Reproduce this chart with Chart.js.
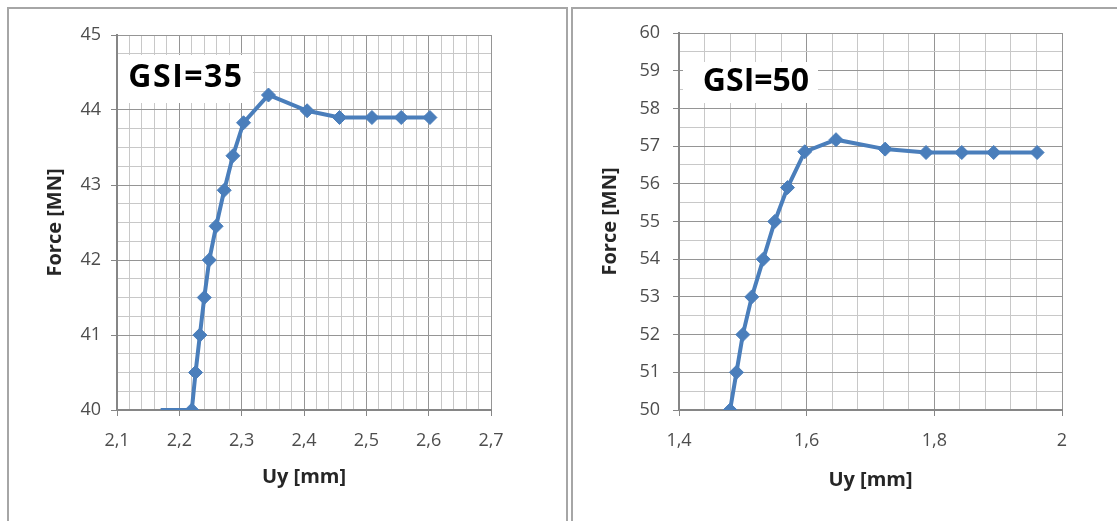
<!DOCTYPE html>
<html>
<head>
<meta charset="utf-8">
<script src="https://cdn.jsdelivr.net/npm/chart.js@4.4.0/dist/chart.umd.min.js"></script>
<style>
body { margin: 0; background: #fff; width: 1117px; height: 521px; overflow: hidden; position: relative; }
.panel { position: absolute; top: 7px; height: 600px; border: 2px solid #a6a6a6; box-sizing: border-box; }
#panelA { left: 7px; width: 561px; }
#panelB { left: 571px; width: 600px; }
canvas { position: absolute; top: 0; }
#chartA { left: 0; }
#chartB { left: 572px; }
</style>
</head>
<body>
<div class="panel" id="panelA"></div>
<div class="panel" id="panelB"></div>
<canvas id="chartA" width="566" height="521"></canvas>
<canvas id="chartB" width="545" height="521"></canvas>
<script>
// GSI=35
const uyA = [2.17, 2.22, 2.226, 2.233, 2.240, 2.248, 2.259, 2.272, 2.286, 2.303, 2.343, 2.405, 2.457, 2.509, 2.556, 2.602];
const forceA = [40, 40, 40.5, 41, 41.5, 42, 42.45, 42.93, 43.39, 43.83, 44.2, 43.99, 43.9, 43.9, 43.9, 43.9];
// GSI=50
const uyB = [1.48, 1.49, 1.5, 1.514, 1.532, 1.55, 1.57, 1.597, 1.646, 1.723, 1.787, 1.843, 1.893, 1.961];
const forceB = [50, 51, 52, 53, 54, 55, 55.9, 56.85, 57.17, 56.92, 56.83, 56.83, 56.83, 56.83];

const BLUE = '#4a7ebb';
const FONT = "'Open Sans', sans-serif";

function isMajor(v, major) {
    const r = v / major;
    return Math.abs(r - Math.round(r)) < 1e-6;
}
function fmt(v) {
    return String(Math.round(v * 10) / 10).replace('.', ',');
}

// white box with the GSI text, drawn under the line
const gsiLabel = {
    id: 'gsiLabel',
    beforeDatasetsDraw(chart, args, o) {
        const ctx = chart.ctx, a = chart.chartArea;
        ctx.save();
        ctx.fillStyle = '#fff';
        ctx.fillRect(a.left + o.box[0], a.top + o.box[1], o.box[2], o.box[3]);
        ctx.font = 'bold 32px ' + FONT;
        ctx.letterSpacing = o.spacing + 'px';
        ctx.fillStyle = '#000';
        ctx.textAlign = 'center';
        ctx.textBaseline = 'middle';
        ctx.fillText(o.text, a.left + o.pos[0], a.top + o.pos[1]);
        ctx.restore();
    }
};

function axis(min, max, minor, major, title, fixed, tp) {
    return {
        type: 'linear',
        min: min,
        max: max,
        afterFit: function (ax) {
            if (ax.isHorizontal()) ax.height = fixed; else ax.width = fixed;
        },
        border: { color: '#868686', width: 2 },
        grid: {
            color: function (c) { return isMajor(c.tick.value, major) ? '#959595' : '#c8c8c8'; },
            tickColor: function (c) { return isMajor(c.tick.value, major) ? '#868686' : 'rgba(0,0,0,0)'; },
            tickLength: 6,
        },
        ticks: {
            stepSize: minor,
            autoSkip: false,
            maxTicksLimit: 500,
            maxRotation: 0,
            padding: tp.pad,
            color: '#4d4d4d',
            font: { family: FONT, size: 18 },
            callback: function (v) { return isMajor(v, major) ? fmt(v) : ''; },
        },
        title: {
            display: true,
            text: title,
            color: '#262626',
            font: { family: FONT, size: 20, weight: 'bold' },
            padding: tp.title,
        },
    };
}

function makeChart(id, xs, ys, radii, xAxis, yAxis, pad, label) {
    const ctx = document.getElementById(id).getContext('2d');
    return new Chart(ctx, {
        type: 'line',
        data: {
            datasets: [{
                data: xs.map(function (x, i) { return { x: x, y: ys[i] }; }),
                borderColor: BLUE,
                backgroundColor: BLUE,
                borderWidth: 4,
                pointStyle: 'rectRot',
                pointRadius: radii,
                pointBorderWidth: 1,
                tension: 0,
            }]
        },
        options: {
            responsive: false,
            animation: false,
            layout: { padding: pad },
            plugins: {
                legend: { display: false },
                tooltip: { enabled: false },
                gsiLabel: label,
            },
            scales: { x: xAxis, y: yAxis },
        },
        plugins: [gsiLabel],
    });
}

makeChart('chartA', uyA, forceA, uyA.map(function (v, i) { return i === 0 ? 0 : 7; }),
    axis(2.1, 2.7, 0.02, 0.1, 'Uy [mm]', 111, { pad: 14, title: { top: 0, bottom: 32 } }),
    axis(40, 45, 0.25, 1, 'Force [MN]', 117, { pad: 10, title: { top: 43, bottom: 0 } }),
    { top: 35, right: 75, left: 0, bottom: 0 },
    { text: 'GSI=35', box: [1, 20, 135, 48], pos: [69, 43], spacing: 1.5 });

makeChart('chartB', uyB, forceB, 7,
    axis(1.4, 2, 0.04, 0.2, 'Uy [mm]', 111, { pad: 14, title: { top: 0, bottom: 29 } }),
    axis(50, 60, 0.5, 1, 'Force [MN]', 107, { pad: 13, title: { top: 26, bottom: 0 } }),
    { top: 33, right: 55, left: 0, bottom: 0 },
    { text: 'GSI=50', box: [4, 29, 135, 41], pos: [77, 49], spacing: 0 });
</script>
</body>
</html>
